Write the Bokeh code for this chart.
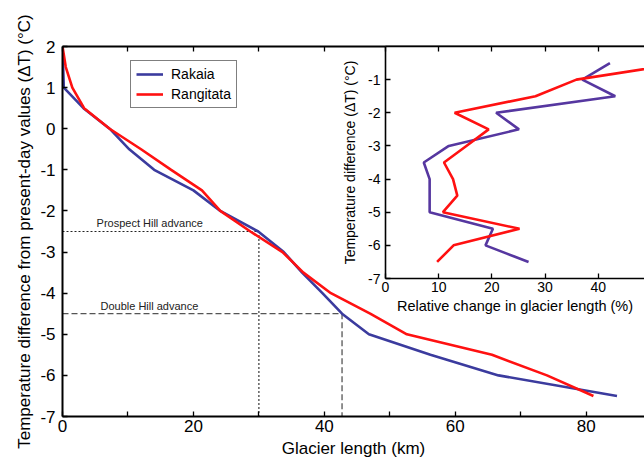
from bokeh.plotting import figure
from bokeh.models import LinearAxis, FixedTicker, Range1d, Legend, LegendItem, GridBox
from bokeh.core.properties import value
from bokeh.embed import file_html
from bokeh.resources import INLINE

FONT = "Liberation Sans"

# ---- main panel data: glacier length (km) vs temperature difference (°C)
dt_main = [2, 1.5, 1, 0.5, 0, -0.5, -1, -1.5, -2, -2.5, -3, -3.5, -4, -4.5, -5, -5.5, -6, -6.5]
rakaia_len = [0.0, 0.1, 0.2, 3.2, 7.2, 10.2, 14.0, 20.0, 24.1, 29.9, 33.8, 36.6, 39.7, 42.7, 46.8, 56.2, 66.6, 84.7]
rangitata_len = [0.0, 0.5, 1.5, 3.3, 7.2, 12.0, 16.6, 21.3, 24.1, 28.7, 33.6, 36.8, 41.0, 47.0, 52.6, 65.6, 74.0, 81.1]

# ---- inset data: relative change in glacier length (%) per 0.5 °C step
dt_inset = [-0.5, -1, -1.5, -2, -2.5, -3, -3.5, -4, -4.5, -5, -5.5, -6, -6.5]
rakaia_rel = [42.2, 37.0, 43.2, 20.8, 25.1, 11.9, 7.2, 8.3, 8.3, 8.3, 20.2, 18.8, 26.9]
rangitata_rel = [56.0, 35.9, 28.2, 13.0, 19.4, 15.2, 11.0, 12.7, 13.5, 10.8, 25.2, 12.8, 9.7]

# ---- moraine advances
advance_names = ["Prospect Hill advance", "Double Hill advance"]
advance_dt = [-2.5, -4.5]
advance_len = [30.0, 42.7]
advance_label_x = [5.2, 5.8]

main_x_ticks = [0, 20, 40, 60, 80]
main_x_minor = [10, 30, 50, 70]
main_top_ticks = [0, 10, 20, 30, 40, 50, 60, 70, 80]
main_y_ticks = [2, 1, 0, -1, -2, -3, -4, -5, -6, -7]
inset_x_ticks = [0, 10, 20, 30, 40]
inset_y_ticks = [-1, -2, -3, -4, -5, -6, -7]

BLUE = "#3b3b9e"
BLUE_INSET = "#5637a0"
RED = "#ff1111"


def style_axis(ax, tick_size, label_size, line_w, standoff, label_standoff):
    ax.axis_line_color = "black"
    ax.axis_line_width = line_w
    ax.major_tick_in = 5
    ax.major_tick_out = 0
    ax.minor_tick_in = 5
    ax.minor_tick_out = 0
    ax.major_tick_line_width = 1.3
    ax.minor_tick_line_width = 1.3
    ax.major_tick_line_color = "black"
    ax.minor_tick_line_color = "black"
    ax.major_label_text_font = FONT
    ax.major_label_text_font_size = tick_size
    ax.major_label_text_color = "black"
    ax.major_label_standoff = standoff
    ax.axis_label_text_font = FONT
    ax.axis_label_text_font_size = label_size
    ax.axis_label_text_font_style = "normal"
    ax.axis_label_text_color = "black"
    ax.axis_label_standoff = label_standoff


# ================= main figure =================
main = figure(width=644, height=463, output_backend="svg", toolbar_location=None,
              x_range=Range1d(0, 88.9), y_range=Range1d(-7, 2),
              min_border_left=62, min_border_right=0, min_border_top=44, min_border_bottom=47,
              x_axis_label="Glacier length (km)",
              y_axis_label="Temperature difference from present-day values (ΔT) (°C)")
main.outline_line_color = None
main.grid.visible = False
main.background_fill_color = "white"
main.border_fill_color = "white"

main.xaxis.ticker = FixedTicker(ticks=main_x_ticks, minor_ticks=main_x_minor)
main.yaxis.ticker = FixedTicker(ticks=main_y_ticks)
main.yaxis.major_label_overrides = {t: str(t) for t in main_y_ticks}
style_axis(main.xaxis[0], "17px", "17px", 2, 3, 4)
style_axis(main.yaxis[0], "17px", "17px", 2, 7, 3)

# top frame edge: ticks only (minor ticks carry no labels)
top_axis = LinearAxis(ticker=FixedTicker(ticks=[], minor_ticks=main_top_ticks))
style_axis(top_axis, "17px", "17px", 2, 0, 0)
main.add_layout(top_axis, "above")

# advance guide lines
prospect_x = [0, advance_len[0], advance_len[0]]
prospect_y = [advance_dt[0], advance_dt[0], -7]
double_x = [0, advance_len[1], advance_len[1]]
double_y = [advance_dt[1], advance_dt[1], -7]
main.line(prospect_x, prospect_y, line_color="#222222", line_width=1.1, line_dash="2 2")
main.line(double_x, double_y, line_color="#555555", line_width=1.3, line_dash="6 3")
main.text(x=advance_label_x, y=[d + 0.05 for d in advance_dt], text=advance_names,
          text_font=value(FONT), text_font_size="11px", text_color="#222222",
          text_baseline="bottom", text_align="left")

r_rak = main.line(rakaia_len, dt_main, line_color=BLUE, line_width=2.6)
r_ran = main.line(rangitata_len, dt_main, line_color=RED, line_width=2.6)

legend = Legend(items=[LegendItem(label="Rakaia", renderers=[r_rak]),
                       LegendItem(label="Rangitata", renderers=[r_ran])],
                location=(68, 308))
legend.label_text_font = FONT
legend.label_text_font_size = "14px"
legend.label_text_color = "black"
legend.border_line_color = "black"
legend.border_line_width = 1
legend.padding = 5
legend.spacing = 4
legend.margin = 0
legend.glyph_width = 27
legend.glyph_height = 14
legend.label_height = 14
legend.label_standoff = 8
legend.background_fill_color = "white"
legend.background_fill_alpha = 1
main.add_layout(legend)

# ================= inset figure =================
inset = figure(width=309, height=316, output_backend="svg", toolbar_location=None,
               x_range=Range1d(0, 48.7), y_range=Range1d(-7, 0),
               min_border_left=50, min_border_right=0, min_border_top=46, min_border_bottom=36,
               x_axis_label="Relative change in glacier length (%)",
               y_axis_label="Temperature difference (ΔT) (°C)")
inset.outline_line_color = None
inset.grid.visible = False
inset.background_fill_color = "white"
inset.border_fill_color = None

inset.xaxis.ticker = FixedTicker(ticks=inset_x_ticks)
inset.yaxis.ticker = FixedTicker(ticks=inset_y_ticks)
inset.yaxis.major_label_overrides = {t: str(t) for t in inset_y_ticks}
style_axis(inset.xaxis[0], "14px", "14.5px", 1.6, 3, 3)
style_axis(inset.yaxis[0], "14px", "14px", 1.6, 5, 7)

inset_top = LinearAxis(ticker=FixedTicker(ticks=[], minor_ticks=inset_x_ticks))
style_axis(inset_top, "14px", "14px", 1.6, 0, 0)
inset.add_layout(inset_top, "above")

inset.line(rakaia_rel, dt_inset, line_color=BLUE_INSET, line_width=2.6)
inset.line(rangitata_rel, dt_inset, line_color=RED, line_width=2.6)

# ================= overlay layout =================
grid = GridBox(children=[(main, 0, 0, 2, 2), (inset, 0, 1)],
               rows=["316px", "147px"], cols=["335px", "309px"], spacing=0)

open("out.html", "w").write(file_html(grid, INLINE))
